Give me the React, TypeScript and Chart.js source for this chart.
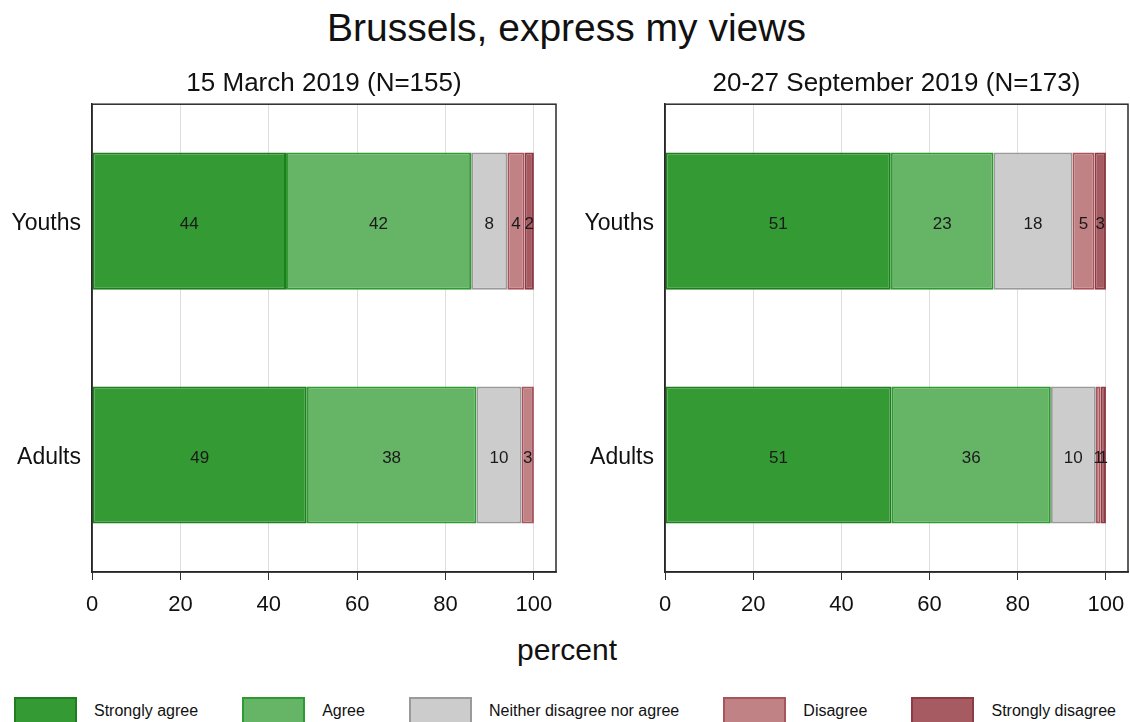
import React, { useEffect, useRef } from "react";
import { Chart, registerables } from "chart.js";
Chart.register(...registerables);

const mainTitle = "Brussels, express my views";
const axisTitle = "percent";
const categories = ["Youths", "Adults"];
const responses = ["Strongly agree", "Agree", "Neither disagree nor agree", "Disagree", "Strongly disagree"];
const xTicks = [0, 20, 40, 60, 80, 100];

const marchTitle = "15 March 2019 (N=155)";
const marchStronglyAgree = [43.9, 48.6];
const marchAgree = [41.9, 38.4];
const marchNeither = [8.2, 10.2];
const marchDisagree = [3.9, 2.8];
const marchStronglyDisagree = [2.1, 0];

const septTitle = "20-27 September 2019 (N=173)";
const septStronglyAgree = [51.2, 51.4];
const septAgree = [23.3, 36.1];
const septNeither = [17.9, 10.2];
const septDisagree = [5.0, 1.1];
const septStronglyDisagree = [2.6, 1.2];

const fills = ["#349a34", "#66b466", "#cccccc", "#c08285", "#a65a61"];
const borders = ["#1e7d1e", "#2f9a2f", "#9a9a9a", "#a8545c", "#8e3a44"];
const FONT = "'Liberation Sans', Arial, sans-serif";

const labelPlugin = {
  id: "segLabels",
  afterDatasetsDraw(chart: any) {
    const ctx = chart.ctx;
    ctx.save();
    ctx.font = `17px ${FONT}`;
    ctx.fillStyle = "#1a1a1a";
    ctx.textAlign = "center";
    ctx.textBaseline = "middle";
    chart.data.datasets.forEach((ds: any, di: number) => {
      const meta = chart.getDatasetMeta(di);
      meta.data.forEach((el: any, i: number) => {
        const v = ds.data[i];
        if (v == null || v <= 0) return;
        ctx.fillText(String(Math.round(v)), (el.x + el.base) / 2, el.y + 3);
      });
    });
    const a = chart.chartArea;
    ctx.strokeStyle = "#2a2a2a";
    ctx.lineWidth = 1.5;
    ctx.strokeRect(a.left, a.top, a.right - a.left, a.bottom - a.top);
    ctx.restore();
  },
};

function Panel(props: { title: string; series: number[][]; left: number; width: number; padRight: number }) {
  const ref = useRef<HTMLCanvasElement>(null);
  useEffect(() => {
    const chart = new Chart(ref.current!, {
      type: "bar",
      data: {
        labels: categories,
        datasets: props.series.map((vals, k) => ({
          label: responses[k],
          data: vals.map((v) => (v > 0 ? v : null)),
          backgroundColor: fills[k],
          borderColor: borders[k],
          borderWidth: 2,
          borderSkipped: false,
          barPercentage: 0.586,
          categoryPercentage: 1,
        })),
      },
      options: {
        indexAxis: "y",
        animation: false,
        responsive: false,
        maintainAspectRatio: false,
        layout: { padding: { left: 0, right: props.padRight, top: 0, bottom: 0 } },
        plugins: {
          legend: { display: false },
          tooltip: { enabled: false },
          title: {
            display: true,
            text: props.title,
            fullSize: false,
            color: "#111",
            font: { family: FONT, size: 26, weight: "normal" },
            padding: { top: 12, bottom: 5 },
          },
        },
        scales: {
          x: {
            type: "linear",
            stacked: true,
            min: 0,
            max: 105,
            afterBuildTicks: (s: any) => {
              s.ticks = xTicks.map((v) => ({ value: v }));
            },
            afterFit: (s: any) => {
              s.height = 50;
              s.paddingLeft = 0;
              s.paddingRight = 0;
            },
            grid: { color: "#dedede", lineWidth: 1, tickColor: "#333", tickLength: 8, drawTicks: true },
            border: { display: true, color: "#222", width: 1.5 },
            ticks: { color: "#111", font: { family: FONT, size: 22 }, padding: 12, maxRotation: 0, autoSkip: false },
          },
          y: {
            type: "category",
            stacked: true,
            afterFit: (s: any) => {
              s.width = 92;
            },
            grid: { display: false, drawTicks: false },
            border: { display: true, color: "#222", width: 1.5 },
            ticks: { color: "#111", font: { family: FONT, size: 23 }, padding: 11, labelOffset: 3 },
          },
        },
      },
      plugins: [labelPlugin],
    });
    return () => chart.destroy();
  }, []);
  return (
    <canvas
      ref={ref}
      width={props.width}
      height={566}
      style={{ position: "absolute", left: props.left, top: 56, width: props.width, height: 566 }}
    />
  );
}

export default function App() {
  return (
    <div style={{ position: "absolute", left: 0, top: 0, width: 1130, height: 722, background: "#fff", overflow: "hidden", fontFamily: FONT, color: "#111" }}>
      <div style={{ position: "absolute", left: 0, top: 6, width: 1133, height: 44, lineHeight: "44px", textAlign: "center", fontSize: 39 }}>
        {mainTitle}
      </div>
      <Panel
        title={marchTitle}
        series={[marchStronglyAgree, marchAgree, marchNeither, marchDisagree, marchStronglyDisagree]}
        left={0}
        width={575}
        padRight={19}
      />
      <Panel
        title={septTitle}
        series={[septStronglyAgree, septAgree, septNeither, septDisagree, septStronglyDisagree]}
        left={573}
        width={557}
        padRight={2}
      />
      <div style={{ position: "absolute", left: 0, top: 630, width: 1134, height: 40, lineHeight: "40px", textAlign: "center", fontSize: 30 }}>
        {axisTitle}
      </div>
      <div style={{ position: "absolute", left: 14, right: 14, top: 697, display: "flex", justifyContent: "space-between" }}>
        {responses.map((r, k) => (
          <div key={r} style={{ display: "flex", alignItems: "flex-start" }}>
            <div style={{ width: 59, height: 26, background: fills[k], border: `2px solid ${borders[k]}` }} />
            <div style={{ marginLeft: 17, fontSize: 16, lineHeight: "28px" }}>{r}</div>
          </div>
        ))}
      </div>
    </div>
  );
}
